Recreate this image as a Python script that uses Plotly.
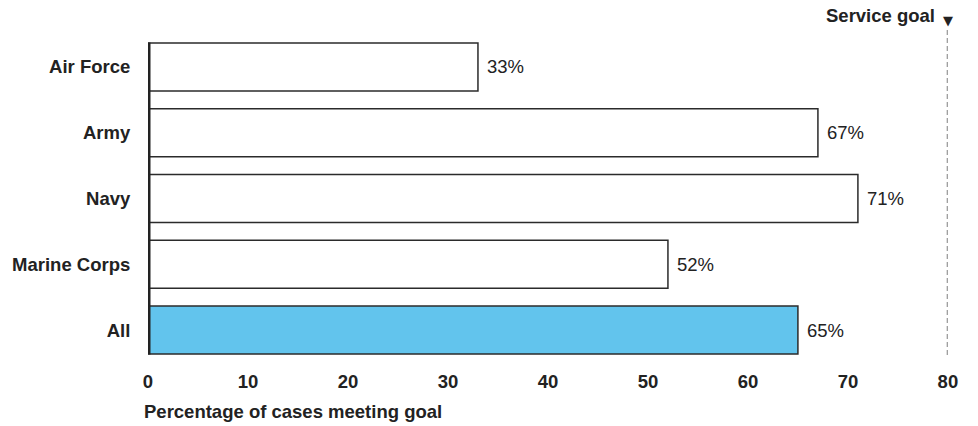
import plotly.graph_objects as go

categories = ["Air Force", "Army", "Navy", "Marine Corps", "All"]
values = [33, 67, 71, 52, 65]
value_labels = ["33%", "67%", "71%", "52%", "65%"]
goal_value = 80
goal_label = "Service goal"
x_ticks = [0, 10, 20, 30, 40, 50, 60, 70, 80]
x_title = "Percentage of cases meeting goal"

FONT = "Liberation Sans, Arial, Helvetica, sans-serif"
FS = 18.5
fill_colors = ["#ffffff"] * 4 + ["#62c4ed"]

fig = go.Figure()
fig.add_trace(go.Bar(
    y=categories, x=values, orientation="h",
    marker=dict(color=fill_colors, line=dict(color="#2b2b2b", width=1.5)),
    width=0.73, hoverinfo="skip",
))

for cat, v, lab in zip(categories, values, value_labels):
    fig.add_annotation(x=v, y=cat, text=lab, showarrow=False, xanchor="left",
                       xshift=7, font=dict(family=FONT, size=FS, color="#222"))

# goal dashed line
fig.add_shape(type="line", xref="x", yref="paper", x0=goal_value, x1=goal_value,
              y0=0.024, y1=1.012, line=dict(color="#a0a0a0", width=2.5, dash="5px,3px"))
# axis line at zero
fig.add_shape(type="line", xref="x", yref="y", x0=0, x1=0, y0=-0.37, y1=4.37,
              line=dict(color="#222", width=5))

fig.add_annotation(x=goal_value, xref="x", y=1, yref="paper", yshift=14,
                   text="\u25BC", showarrow=False, xanchor="center", yanchor="middle",
                   borderpad=0, font=dict(family="DejaVu Sans", size=13, color="#222"))
fig.add_annotation(x=goal_value, xref="x", y=1, yref="paper", yshift=19, xshift=-12,
                   text="<b>" + goal_label + "</b>", showarrow=False, xanchor="right",
                   yanchor="middle", borderpad=0,
                   font=dict(family=FONT, size=FS, color="#222"))
fig.add_annotation(x=0, xref="paper", xshift=-6, y=0, yref="paper", yshift=-48,
                   text="<b>" + x_title + "</b>", showarrow=False, xanchor="left",
                   yanchor="middle", font=dict(family=FONT, size=FS, color="#222"))

fig.update_layout(
    width=970, height=418,
    margin=dict(l=140, r=30, t=26, b=63),
    paper_bgcolor="white", plot_bgcolor="white",
    showlegend=False,
    bargap=0.27,
    xaxis=dict(range=[0, 80.01], tickvals=x_ticks, ticktext=["<b>%d</b>" % t for t in x_ticks],
               showgrid=False, zeroline=False, showline=False, automargin=False,
               ticks="outside", ticklen=2, tickcolor="rgba(0,0,0,0)",
               tickfont=dict(family=FONT, size=FS, color="#222")),
    yaxis=dict(autorange="reversed", showgrid=False, zeroline=False, showline=False,
               automargin=False,
               tickvals=categories, ticktext=["<b>%s</b>" % c for c in categories],
               ticks="outside", ticklen=13, tickcolor="rgba(0,0,0,0)",
               tickfont=dict(family=FONT, size=FS, color="#222")),
)

fig.write_html("out.html")
